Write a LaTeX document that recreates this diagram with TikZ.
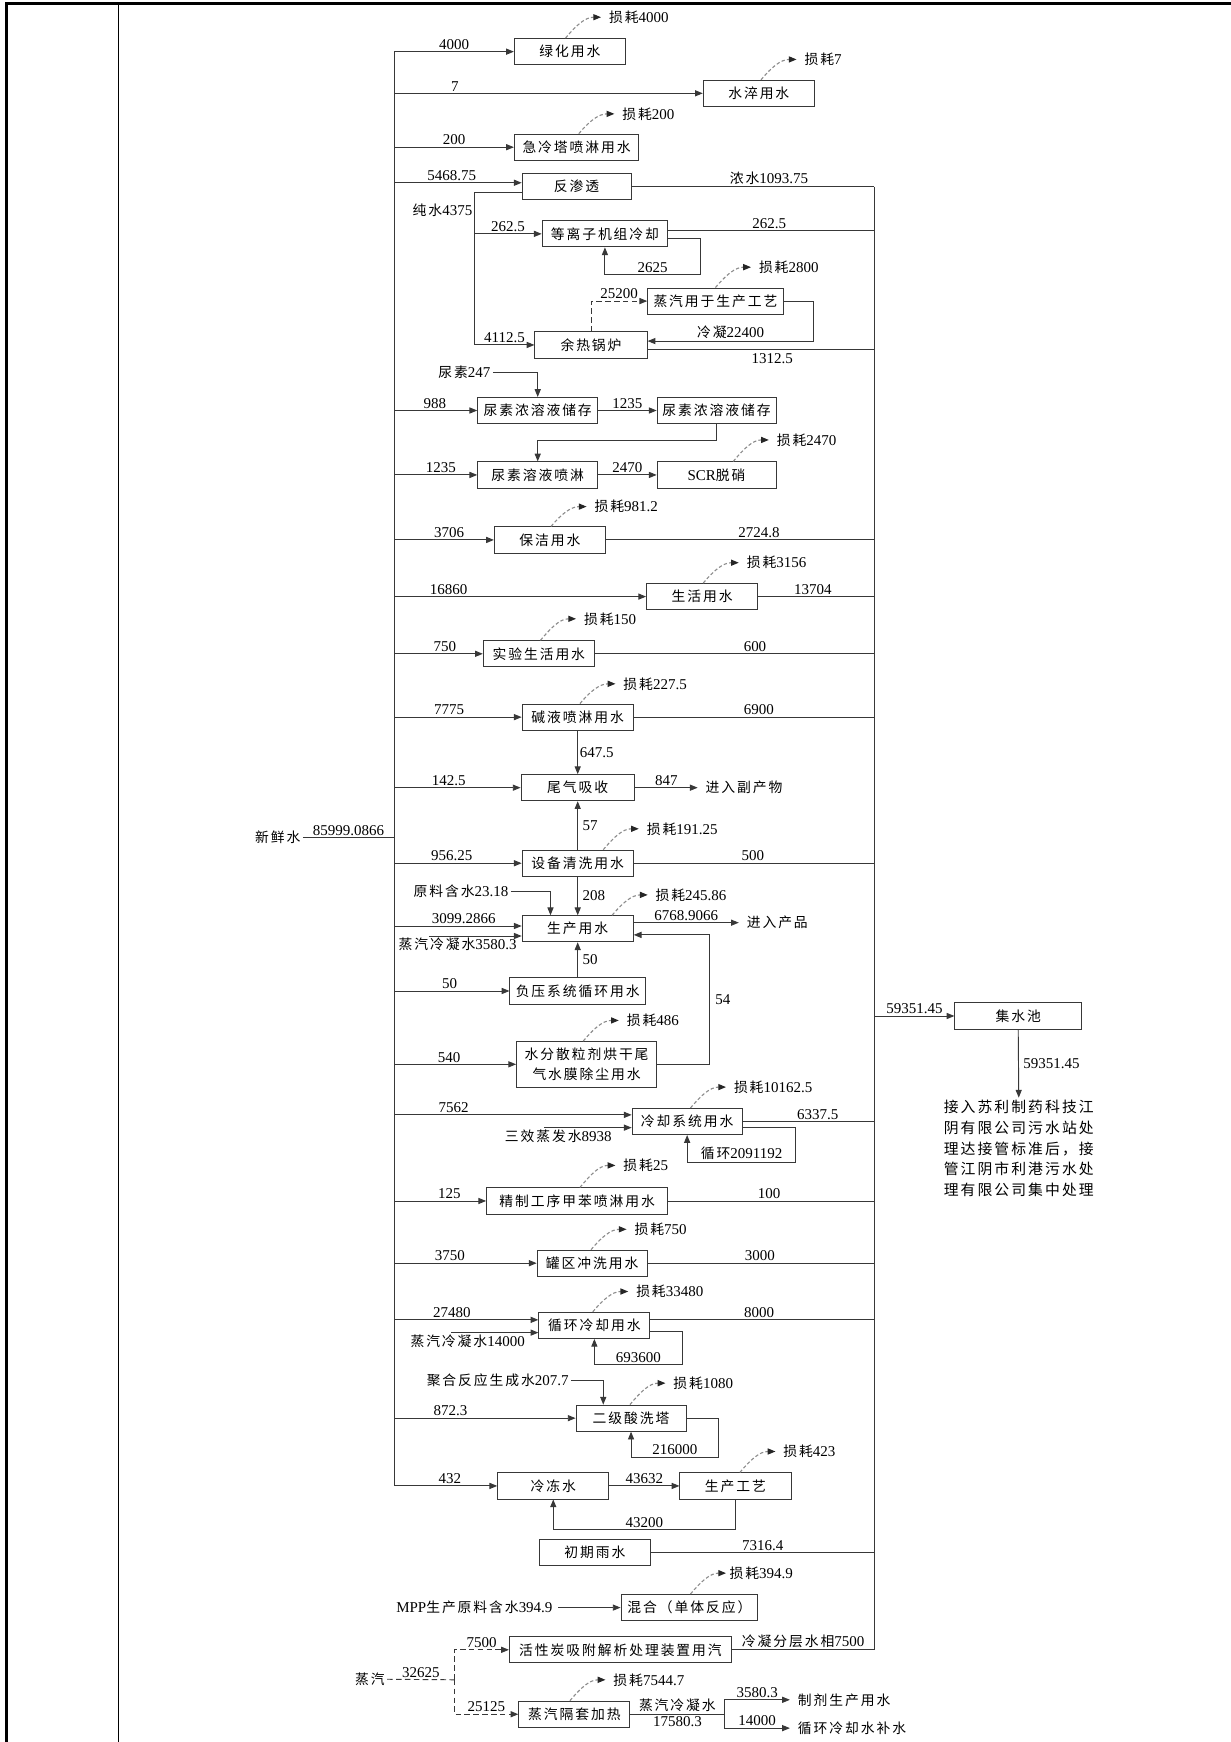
\documentclass[tikz,border=0pt]{standalone}
\usepackage{fontspec}
\setmainfont{Liberation Serif}
\newfontfamily\zh[Scale=0.92,LetterSpace=14]{Noto Sans CJK SC}
\usetikzlibrary{arrows.meta}
\definecolor{WLine}{HTML}{383838}
\definecolor{WLoss}{HTML}{8C8C8C}
\newcommand\cn[1]{{\zh #1}}
\newcommand\lossv[1]{{\zh 损耗}#1}
\tikzset{
  flow/.style={draw=WLine,line width=0.85pt},
  arr/.style={flow,-{Triangle[length=7pt,width=5.5pt]}},
  steamline/.style={flow,dash pattern=on 5pt off 3pt},
  steamarr/.style={steamline,-{Triangle[length=7pt,width=5.5pt]}},
  lossline/.style={draw=WLoss,line width=1pt,dash pattern=on 3pt off 2pt,-{Triangle[length=7pt,width=5.5pt,color=black!85]}},
  box/.style={draw=WLine,line width=0.85pt,minimum height=23.5pt,inner sep=1pt,font=\zh},
  num/.style={inner sep=1.5pt},
  lbl/.style={inner sep=2pt},
  losslbl/.style={anchor=west,inner xsep=7pt,inner ysep=1pt},
}
\begin{document}
\begin{tikzpicture}[x=1pt,y=-1pt]
\fontsize{13.5}{16}\selectfont
\path[use as bounding box] (0,0) rectangle (1108,1568);
% table frame
\draw[black,line width=2.4pt] (6,1568) -- (6,3) -- (1108,3);
\draw[black,line width=1pt] (107,3) -- (107,1568);

\coordinate (bus) at (355,0);
\coordinate (rb) at (787,0);
\coordinate (pw) at (427,0);

% units
\node[box,minimum width=100pt] (green) at (513,46.5) {绿化用水};
\node[box,minimum width=100pt] (quench) at (683,84) {水淬用水};
\node[box,minimum width=112pt] (spray) at (519,132.5) {急冷塔喷淋用水};
\node[box,minimum width=98pt] (ro) at (519,168) {反渗透};
\node[box,minimum width=113pt] (plasma) at (544.5,210.5) {等离子机组冷却};
\node[box,minimum width=122pt] (steamuse) at (644,271) {蒸汽用于生产工艺};
\node[box,minimum width=101pt] (boiler) at (532,310.5) {余热锅炉};
\node[box,minimum width=108pt] (urea1) at (484,369.5) {尿素浓溶液储存};
\node[box,minimum width=107pt] (urea2) at (645,369.5) {尿素浓溶液储存};
\node[box,minimum width=108pt] (urea3) at (484,427.5) {尿素溶液喷淋};
\node[box,minimum width=107pt] (scr) at (645,427.5) {\textrm{SCR}脱硝};
\node[box,minimum width=100pt] (clean) at (495,486) {保洁用水};
\node[box,minimum width=100pt] (life) at (632,537) {生活用水};
\node[box,minimum width=100pt] (lab) at (485,588.5) {实验生活用水};
\node[box,minimum width=100pt] (alkali) at (520,645.5) {碱液喷淋用水};
\node[box,minimum width=102pt] (tail) at (520,709) {尾气吸收};
\node[box,minimum width=100pt] (equip) at (520,777) {设备清洗用水};
\node[box,minimum width=100pt] (prod) at (520,836) {生产用水};
\node[box,minimum width=122pt] (vacuum) at (520,892) {负压系统循环用水};
\node[box,minimum width=126pt,minimum height=41pt,align=center,font=\fontsize{13.5}{18.6}\selectfont\zh] (dust) at (528,958) {水分散粒剂烘干尾\\气水膜除尘用水};
\node[box,minimum width=99pt] (cool) at (618.5,1009.5) {冷却系统用水};
\node[box,minimum width=163pt] (toluene) at (519.5,1081) {精制工序甲苯喷淋用水};
\node[box,minimum width=99pt] (tank) at (533,1137) {罐区冲洗用水};
\node[box,minimum width=100pt] (circ) at (535,1193) {循环冷却用水};
\node[box,minimum width=99pt] (acid) at (568,1276.5) {二级酸洗塔};
\node[box,minimum width=100pt] (chill) at (498,1337.5) {冷冻水};
\node[box,minimum width=100pt] (proc) at (662,1337.5) {生产工艺};
\node[box,minimum width=100pt] (rain) at (535.5,1397.5) {初期雨水};
\node[box,minimum width=123pt] (mix) at (620.5,1447) {混合（单体反应）};
\node[box,minimum width=200pt] (carbon) at (558.5,1485) {活性炭吸附解析处理装置用汽};
\node[box,minimum width=100pt] (jacket) at (517,1543) {蒸汽隔套加热};
\node[box,minimum width=114pt] (pool) at (916.5,914.5) {集水池};

% losses
\node[losslbl] (green-loss) at (541,15.5) {\lossv{4000}};
\node[losslbl] (quench-loss) at (717,53.5) {\lossv{7}};
\node[losslbl] (spray-loss) at (553,102.5) {\lossv{200}};
\node[losslbl] (steamuse-loss) at (676,240.5) {\lossv{2800}};
\node[losslbl] (scr-loss) at (692,396) {\lossv{2470}};
\node[losslbl] (clean-loss) at (528,456) {\lossv{981.2}};
\node[losslbl] (life-loss) at (665,506.5) {\lossv{3156}};
\node[losslbl] (lab-loss) at (518.5,557) {\lossv{150}};
\node[losslbl] (alkali-loss) at (554,615.5) {\lossv{227.5}};
\node[losslbl] (equip-loss) at (575,746) {\lossv{191.25}};
\node[losslbl] (prod-loss) at (583,805.5) {\lossv{245.86}};
\node[losslbl] (dust-loss) at (557,918.5) {\lossv{486}};
\node[losslbl] (cool-loss) at (653.5,978.5) {\lossv{10162.5}};
\node[losslbl] (toluene-loss) at (554,1049) {\lossv{25}};
\node[losslbl] (tank-loss) at (564,1106.5) {\lossv{750}};
\node[losslbl] (circ-loss) at (565.5,1162.5) {\lossv{33480}};
\node[losslbl] (acid-loss) at (599,1245) {\lossv{1080}};
\node[losslbl] (proc-loss) at (698,1306.5) {\lossv{423}};
\node[losslbl,inner xsep=3pt] (mix-loss) at (653.5,1416) {\lossv{394.9}};
\node[losslbl] (jacket-loss) at (545,1512) {\lossv{7544.7}};
\foreach \b in {green,quench,spray,steamuse,scr,clean,life,lab,alkali,equip,prod,dust,cool,toluene,tank,circ,acid,proc,mix,jacket}
  \draw[lossline] ([xshift=-32pt]\b-loss.west |- \b.north) to[out=50,in=180] (\b-loss.west);

% buses
\draw[flow] (bus |- green) -- (bus |- chill);
\draw[flow] (rb |- ro.east) -- (rb |- carbon.east);

\draw[arr] (bus |- green) -- node[num,above,pos=0.5]{4000} (green.west);
\draw[arr] (bus |- quench) -- node[num,above,pos=0.196]{7} (quench.west);
\draw[arr] (bus |- spray) -- node[num,above,pos=0.5]{200} (spray.west);

% reverse osmosis and boiler
\coordinate (ro-in) at ([yshift=3.5pt]ro.west);
\coordinate (ro-pw) at ([yshift=-5pt]ro.west);
\draw[arr] (bus |- ro-in) -- node[num,above,pos=0.45]{5468.75} (ro-in);
\draw[flow] (ro.east) -- node[num,above,pos=0.566]{\cn{浓水}1093.75} (rb |- ro.east);
\draw[flow] (ro-pw) -- (pw |- ro-pw) -- node[num,left,pos=0.12]{\cn{纯水}4375} (pw |- boiler);
\draw[arr] (pw |- plasma) -- node[num,above]{262.5} (plasma.west);
\draw[arr] (pw |- boiler) -- node[num,above]{4112.5} (boiler.west);
\coordinate (plasma-out) at ([yshift=3pt]plasma.east);
\coordinate (plasma-ret) at ([yshift=-4.5pt]plasma.east);
\draw[flow] (plasma-out) -- node[num,above,pos=0.49]{262.5} (rb |- plasma-out);
\draw[arr] (plasma-ret) -- ++(29,0) -- ++(0,32) -| node[num,above,pos=0.25]{2625} (plasma.south);
\draw[steamarr] (boiler.north) |- node[num,above,pos=0.75]{25200} (steamuse.west);
\coordinate (boiler-ret) at ([yshift=3.5pt]boiler.east);
\coordinate (boiler-out) at ([yshift=-4pt]boiler.east);
\draw[arr] (steamuse.east) -- ++(27,0) |- node[num,above,pos=0.75]{\cn{冷凝}22400} (boiler-ret);
\draw[flow] (boiler-out) -- node[num,below,pos=0.55,yshift=-2pt]{1312.5} (rb |- boiler-out);

% urea
\node[lbl] (urea) at (418,335) {\cn{尿素}247};
\draw[arr] (urea.east) -| (urea1.north);
\draw[arr] (bus |- urea1) -- node[num,above,pos=0.49]{988} (urea1.west);
\draw[arr] (urea1.east) -- node[num,above]{1235} (urea2.west);
\draw[arr] (urea2.south) -- ++(0,15) -| (urea3.north);
\draw[arr] (bus |- urea3) -- node[num,above,pos=0.56]{1235} (urea3.west);
\draw[arr] (urea3.east) -- node[num,above]{2470} (scr.west);

\draw[arr] (bus |- clean) -- node[num,above,pos=0.55]{3706} (clean.west);
\draw[flow] (clean.east) -- node[num,above,pos=0.57]{2724.8} (rb |- clean.east);
\draw[arr] (bus |- life) -- node[num,above,pos=0.215]{16860} (life.west);
\draw[flow] (life.east) -- node[num,above,pos=0.47]{13704} (rb |- life.east);
\draw[arr] (bus |- lab) -- node[num,above,pos=0.57]{750} (lab.west);
\draw[flow] (lab.east) -- node[num,above,pos=0.573]{600} (rb |- lab.east);
\draw[arr] (bus |- alkali) -- node[num,above,pos=0.43]{7775} (alkali.west);
\draw[flow] (alkali.east) -- node[num,above,pos=0.52]{6900} (rb |- alkali.east);
\draw[arr] (alkali.south) -- node[num,right]{647.5} (tail.north);

% tail gas, cleaning, production
\draw[arr] (bus |- tail) -- node[num,above,pos=0.43]{142.5} (tail.west);
\node[lbl,anchor=west,inner xsep=7pt] (byprod) at (628,709) {\cn{进入副产物}};
\draw[arr] (tail.east) -- node[num,above]{847} (byprod.west);
\node[lbl] (fresh) at (250,754) {\cn{新鲜水}};
\draw[flow] (fresh.east) -- node[num,above]{85999.0866} (bus |- fresh.east);
\draw[arr] (bus |- equip) -- node[num,above,pos=0.45]{956.25} (equip.west);
\draw[flow] (equip.east) -- node[num,above,pos=0.495]{500} (rb |- equip.east);
\draw[arr] (equip.north) -- node[num,right,inner xsep=4pt]{57} (tail.south);
\draw[arr] (equip.south) -- node[num,right,inner xsep=4pt]{208} (prod.north);
\node[lbl] (rawwater) at (415,802.5) {\cn{原料含水}23.18};
\draw[arr] (rawwater.east) -| ([xshift=-24.5pt]prod.north);
\coordinate (prod-a) at ([yshift=2.5pt]prod.west);
\coordinate (prod-b) at ([yshift=-6.5pt]prod.west);
\coordinate (cond1) at (386,0);
\draw[arr] (bus |- prod-a) -- node[num,above,pos=0.545]{3099.2866} (prod-a);
\draw[arr] (cond1 |- prod-b) -- node[num,below,pos=0.31]{\cn{蒸汽冷凝水}3580.3} (prod-b);
\coordinate (prod-out) at ([yshift=5.5pt]prod.east);
\coordinate (prod-ret) at ([yshift=-5.5pt]prod.east);
\node[lbl,anchor=west,inner xsep=7pt] (product) at (665,830.5) {\cn{进入产品}};
\draw[arr] (prod-out) -- node[num,above]{6768.9066} (product.west);
\draw[arr] (bus |- vacuum) -- node[num,above,pos=0.48]{50} (vacuum.west);
\draw[arr] (vacuum.north) -- node[num,right,inner xsep=4pt]{50} (prod.south);
\draw[arr] (bus |- dust) -- node[num,above,pos=0.45]{540} (dust.west);
\draw[arr] (dust.east) -- ++(47,0) |- node[num,right,pos=0.25,inner xsep=5pt]{54} (prod-ret);

% cooling
\coordinate (cool-a) at ([yshift=6pt]cool.west);
\coordinate (cool-b) at ([yshift=-5.5pt]cool.west);
\coordinate (evap) at (490,0);
\draw[arr] (bus |- cool-a) -- node[num,above,pos=0.25]{7562} (cool-a);
\draw[arr] (evap |- cool-b) -- node[num,below,pos=0.16]{\cn{三效蒸发水}8938} (cool-b);
\coordinate (cool-ret) at ([yshift=-5.5pt]cool.east);
\draw[flow] (cool.east) -- node[num,above,pos=0.57]{6337.5} (rb |- cool.east);
\draw[arr] (cool-ret) -- ++(48,0) -- ++(0,31) -| node[num,above,pos=0.25]{\cn{循环}2091192} (cool.south);

\draw[arr] (bus |- toluene) -- node[num,above,pos=0.6]{125} (toluene.west);
\draw[flow] (toluene.east) -- node[num,above,pos=0.49]{100} (rb |- toluene.east);
\draw[arr] (bus |- tank) -- node[num,above,pos=0.39]{3750} (tank.west);
\draw[flow] (tank.east) -- node[num,above,pos=0.495]{3000} (rb |- tank.east);

\coordinate (circ-a) at ([yshift=5pt]circ.west);
\coordinate (circ-b) at ([yshift=-6.5pt]circ.west);
\coordinate (cond2) at (406,0);
\draw[arr] (bus |- circ-a) -- node[num,above,pos=0.4]{27480} (circ-a);
\draw[arr] (cond2 |- circ-b) -- node[num,below,pos=0.19]{\cn{蒸汽冷凝水}14000} (circ-b);
\coordinate (circ-out) at ([yshift=5pt]circ.east);
\coordinate (circ-ret) at ([yshift=-5.5pt]circ.east);
\draw[flow] (circ-out) -- node[num,above,pos=0.485]{8000} (rb |- circ-out);
\draw[arr] (circ-ret) -- ++(29,0) -- ++(0,30) -| node[num,above,pos=0.25]{693600} (circ.south);

% acid wash, chilled water
\node[lbl] (polywater) at (448,1242.5) {\cn{聚合反应生成水}207.7};
\draw[arr] (polywater.east) -| ([xshift=-25pt]acid.north);
\draw[arr] (bus |- acid) -- node[num,above,pos=0.31]{872.3} (acid.west);
\draw[arr] (acid.east) -- ++(29,0) -- ++(0,35) -| node[num,above,pos=0.25]{216000} (acid.south);
\draw[arr] (bus |- chill) -- node[num,above,pos=0.54]{432} (chill.west);
\draw[arr] (chill.east) -- node[num,above]{43632} (proc.west);
\draw[arr] (proc.south) -- ++(0,27) -| node[num,above,pos=0.25]{43200} (chill.south);
\draw[flow] (rain.east) -- node[num,above,pos=0.5]{7316.4} (rb |- rain.east);
\node[lbl,inner xsep=5pt] (mpp) at (427,1447) {MPP\cn{生产原料含水}394.9};
\draw[arr] (mpp.east) -- (mix.west);

% steam
\node[lbl] (steam) at (333,1511.5) {\cn{蒸汽}};
\coordinate (sj) at (409,1512);
\draw[steamline] (steam.east) -- node[num,above]{32625} (sj);
\draw[steamarr] (sj) |- node[num,above,pos=0.75]{7500} (carbon.west);
\draw[steamarr] (sj) |- node[num,above,pos=0.75]{25125} (jacket.west);
\draw[flow] (carbon.east) -- node[num,above]{\cn{冷凝分层水相}7500} (rb |- carbon.east);
\coordinate (cj) at (652,0);
\node[lbl,anchor=west,inner xsep=7pt] (dosage) at (711,1530) {\cn{制剂生产用水}};
\node[lbl,anchor=west,inner xsep=7pt] (makeup) at (711,1555.5) {\cn{循环冷却水补水}};
\draw[flow] (jacket.east) -- node[num,above]{\cn{蒸汽冷凝水}} node[num,below]{17580.3} (cj |- jacket.east);
\draw[arr] (cj |- jacket.east) |- node[num,above,pos=0.75]{3580.3} (dosage.west);
\draw[arr] (cj |- jacket.east) |- node[num,above,pos=0.75]{14000} (makeup.west);

% collection pool
\draw[arr] (rb |- pool) -- node[num,above]{59351.45} (pool.west);
\node[align=left,inner sep=2pt,anchor=north,font=\fontsize{14.5}{18.7}\selectfont\zh] (sewer) at (917,988) {接入苏利制药科技江\\阴有限公司污水站处\\理达接管标准后，接\\管江阴市利港污水处\\理有限公司集中处理};
\draw[arr] (pool.south) -- node[num,right,inner xsep=4pt]{59351.45} (sewer.north);
\end{tikzpicture}
\end{document}
